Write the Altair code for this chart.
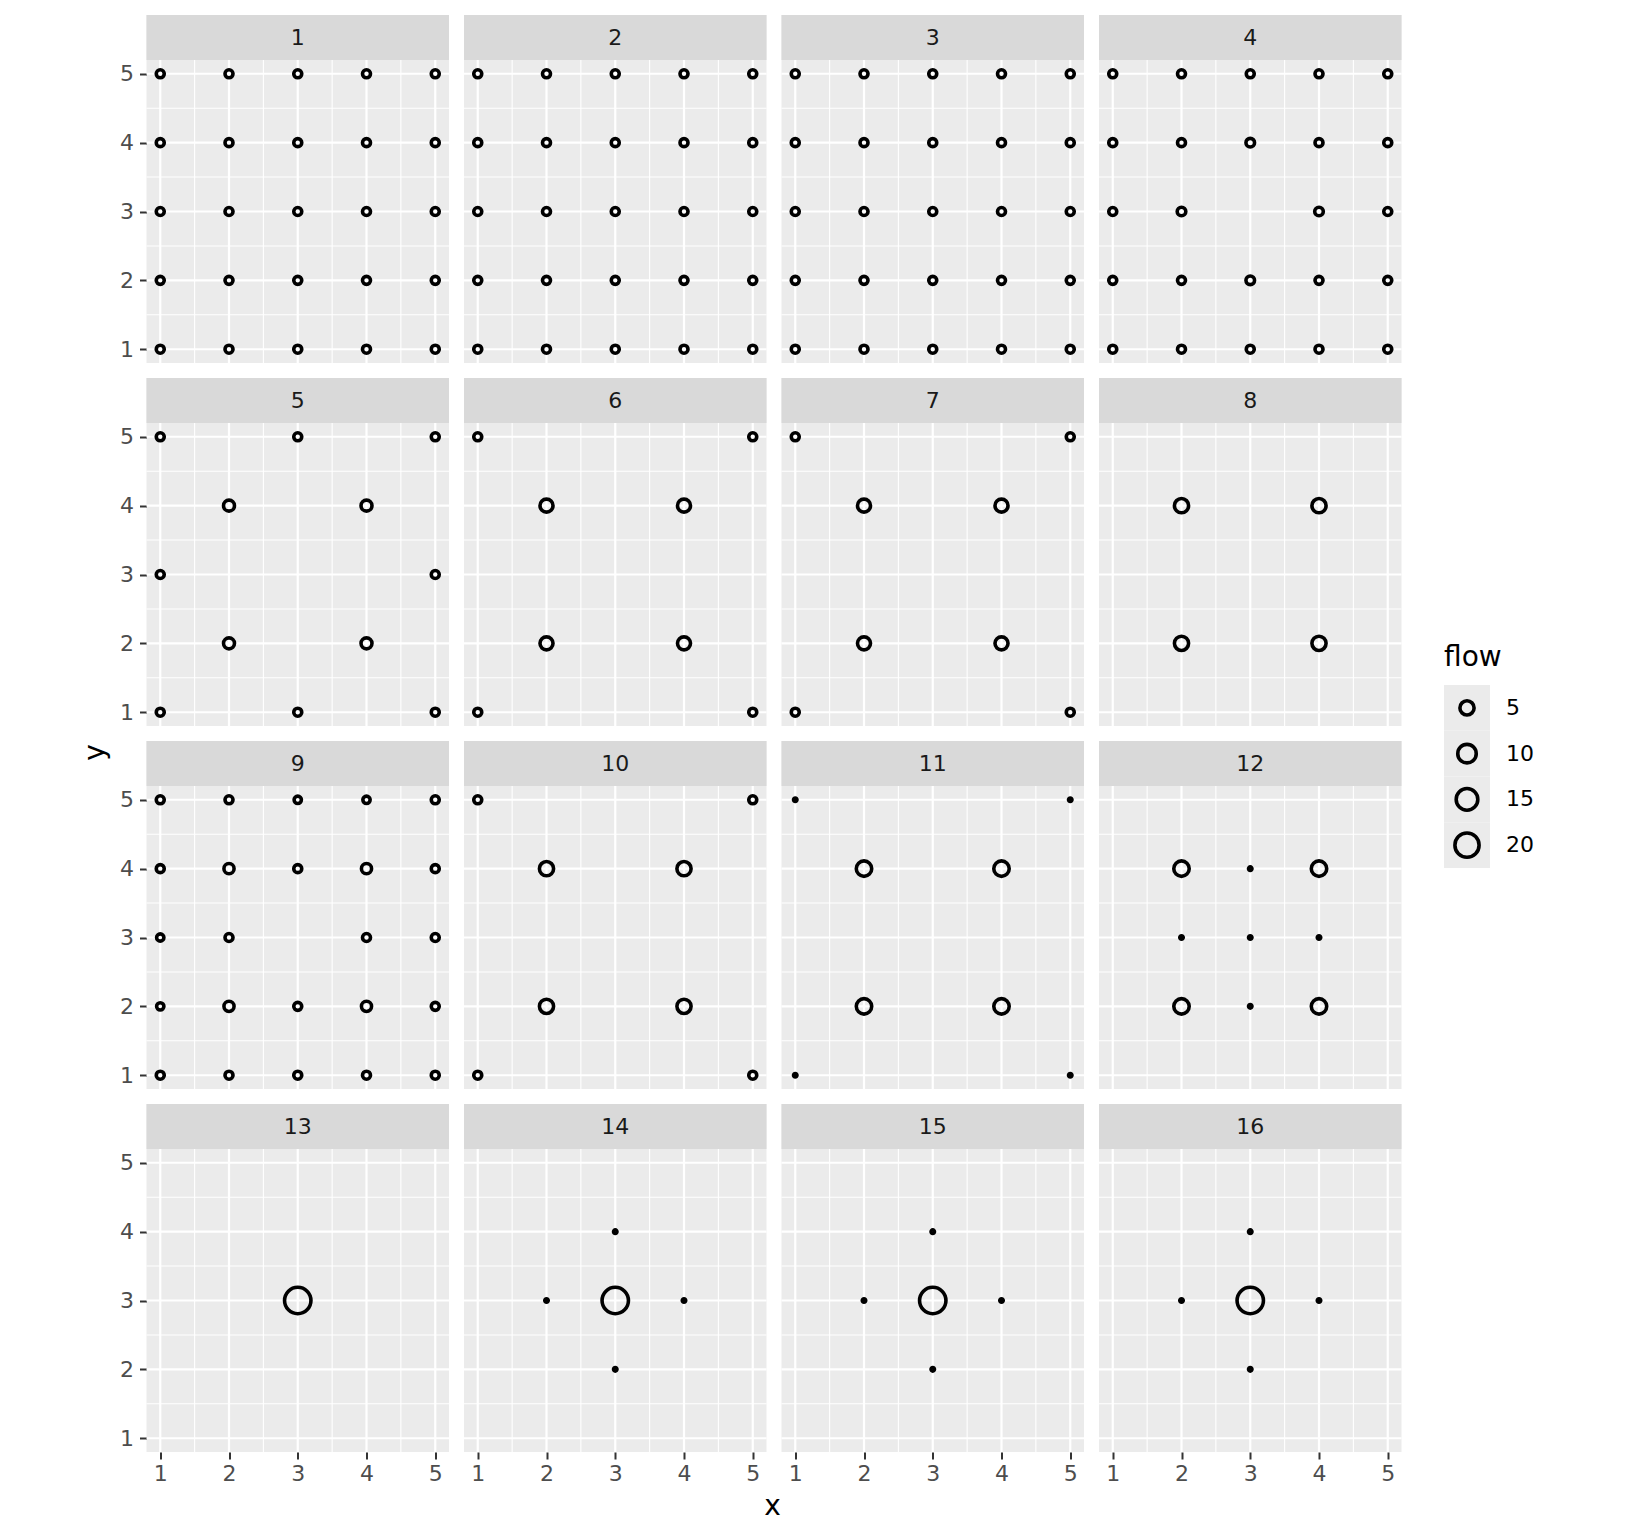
import altair as alt
import pandas as pd

N = None

# flow per cell: rows go from y=5 (top) down to y=1, columns x=1..5; N = no point
flow_1 = [[1, 1, 1, 1, 1], [1, 1, 1, 1, 1], [1, 1, 1, 1, 1], [1, 1, 1, 1, 1], [1, 1, 1, 1, 1]]
flow_2 = [[1, 1, 1, 1, 1], [1, 1, 1, 1, 1], [1, 1, 1, 1, 1], [1, 1, 1, 1, 1], [1, 1, 1, 1, 1]]
flow_3 = [[1, 1, 1, 1, 1], [1, 1, 1, 1, 1], [1, 1, 1, 1, 1], [1, 1, 1, 1, 1], [1, 1, 1, 1, 1]]
flow_4 = [[1, 1, 1, 1, 1], [1, 1, 1.25, 1, 1], [1, 1.25, N, 1.25, 1], [1, 1, 1.25, 1, 1], [1, 1, 1, 1, 1]]
flow_5 = [[1, N, 1, N, 1], [N, 2.5, N, 2.5, N], [1, N, N, N, 1], [N, 2.5, N, 2.5, N], [1, N, 1, N, 1]]
flow_6 = [[1, N, N, N, 1], [N, 4, N, 4, N], [N, N, N, N, N], [N, 4, N, 4, N], [1, N, N, N, 1]]
flow_7 = [[1, N, N, N, 1], [N, 4, N, 4, N], [N, N, N, N, N], [N, 4, N, 4, N], [1, N, N, N, 1]]
flow_8 = [[N, N, N, N, N], [N, 5, N, 5, N], [N, N, N, N, N], [N, 5, N, 5, N], [N, N, N, N, N]]
flow_9 = [[1, 1, 0.75, 0.75, 1], [1, 2, 1, 2, 1], [0.75, 1, N, 1, 1], [0.75, 2, 1, 2, 1], [1, 1, 1, 1, 1]]
flow_10 = [[1, N, N, N, 1], [N, 5, N, 5, N], [N, N, N, N, N], [N, 5, N, 5, N], [1, N, N, N, 1]]
flow_11 = [[0, N, N, N, 0], [N, 6.25, N, 6.25, N], [N, N, N, N, N], [N, 6.25, N, 6.25, N], [0, N, N, N, 0]]
flow_12 = [[N, N, N, N, N], [N, 6.25, 0, 6.25, N], [N, 0, 0, 0, N], [N, 6.25, 0, 6.25, N], [N, N, N, N, N]]
flow_13 = [[N, N, N, N, N], [N, N, N, N, N], [N, N, 25, N, N], [N, N, N, N, N], [N, N, N, N, N]]
flow_14 = [[N, N, N, N, N], [N, N, 0, N, N], [N, 0, 25, 0, N], [N, N, 0, N, N], [N, N, N, N, N]]
flow_15 = [[N, N, N, N, N], [N, N, 0, N, N], [N, 0, 25, 0, N], [N, N, 0, N, N], [N, N, N, N, N]]
flow_16 = [[N, N, N, N, N], [N, N, 0, N, N], [N, 0, 25, 0, N], [N, N, 0, N, N], [N, N, N, N, N]]

panels = [flow_1, flow_2, flow_3, flow_4, flow_5, flow_6, flow_7, flow_8,
          flow_9, flow_10, flow_11, flow_12, flow_13, flow_14, flow_15, flow_16]

major_breaks = [1, 2, 3, 4, 5]
minor_breaks = [1.5, 2.5, 3.5, 4.5]
legend_breaks = [5, 10, 15, 20]
lims = [0.8, 5.2]

records = []
for p, grid in enumerate(panels, start=1):
    for r, row in enumerate(grid):
        for c, v in enumerate(row):
            if v is not None:
                records.append({"panel": p, "x": c + 1, "y": 5 - r, "flow": v})
df = pd.DataFrame(records)
major_df = pd.DataFrame({"m": major_breaks})
minor_df = pd.DataFrame({"m": minor_breaks})

W, H, STRIP = 302.5, 303, 45
LABEL, TITLE = 22, 28
RING = 3.6

xs = alt.Scale(domain=lims, nice=False, zero=False)
# the strip sits in the top STRIP pixels of each panel, the plot area below it
ys = alt.Scale(domain=lims, nice=False, zero=False, range=[STRIP + H, STRIP])
size_scale = alt.Scale(type="pow", exponent=0.8, domain=[0, 25], range=[12, 697], nice=False)

axis_common = dict(
    values=major_breaks, format="d", grid=False, domain=False,
    tickColor="#333333", tickWidth=2, tickSize=7,
    labelFontSize=LABEL, labelColor="#4D4D4D",
    titleFontSize=TITLE, titleColor="black", titleFontWeight="normal",
)


def grid_lines(breaks_df, width, ax_x, ax_y):
    v = alt.Chart(breaks_df).mark_rule(color="white", strokeWidth=width).encode(
        x=alt.X("m:Q", scale=xs, axis=ax_x),
        y=alt.YDatum(lims[0], scale=ys, axis=ax_y),
        y2=alt.Y2Datum(lims[1]),
    )
    h = alt.Chart(breaks_df).mark_rule(color="white", strokeWidth=width).encode(
        y=alt.Y("m:Q", scale=ys, axis=ax_y),
        x=alt.XDatum(lims[0], scale=xs, axis=ax_x),
        x2=alt.X2Datum(lims[1]),
    )
    return [v, h]


def make_panel(k):
    col, row = (k - 1) % 4, (k - 1) // 4
    ax = dict(axis_common, labels=row == 3, ticks=row == 3, labelPadding=4, title=None)
    ay = dict(axis_common, labels=col == 0, ticks=col == 0, labelPadding=6, title=None)
    if k == 14:
        ax.update(title="x", titleX=308, titleY=54, titleBaseline="middle", titleAlign="center")
    if k == 5:
        ay.update(title="y", titleX=-51.5, titleY=374, titleAngle=270,
                  titleBaseline="middle", titleAlign="center")
    ax_x, ax_y = alt.Axis(**ax), alt.Axis(**ay)

    label_df = pd.DataFrame({"panel": [str(k)]})
    strip_bg = alt.Chart(label_df).mark_rect(color="#D9D9D9").encode(
        x=alt.value(0), x2=alt.value(W), y=alt.value(0), y2=alt.value(STRIP)
    )
    strip_txt = alt.Chart(label_df).mark_text(fontSize=LABEL, color="#1A1A1A").encode(
        text="panel:N", y=alt.value(STRIP / 2)
    )
    pts = alt.Chart(df[df.panel == k]).mark_point(
        shape="circle", filled=False, color="black", strokeWidth=RING, opacity=1
    ).encode(
        x=alt.X("x:Q", scale=xs, axis=ax_x),
        y=alt.Y("y:Q", scale=ys, axis=ax_y),
        size=alt.Size("flow:Q", scale=size_scale, legend=None),
    )
    layers = grid_lines(minor_df, 1.1, ax_x, ax_y) + grid_lines(major_df, 2.2, ax_x, ax_y)
    return alt.layer(*layers, strip_bg, strip_txt, pts).properties(
        width=W, height=STRIP + H,
        view=alt.ViewBackground(fill="#EBEBEB", stroke="transparent"),
    )


grid = alt.concat(
    *[make_panel(k) for k in range(1, 17)], columns=4,
    spacing={"row": 15, "column": 14.5}, bounds="flush",
)

# legend drawn as a small chart so the keys sit on a grey block like ggplot's
leg_df = pd.DataFrame({"flow": legend_breaks})
yband = alt.Y("flow:O", axis=None, scale=alt.Scale(range=[670, 853], paddingInner=0, paddingOuter=0))
leg_bg = alt.Chart(leg_df).mark_rect(color="#EBEBEB").encode(y=yband)
leg_keys = alt.Chart(leg_df).mark_point(
    shape="circle", filled=False, color="black", strokeWidth=RING, opacity=1
).encode(y=yband, size=alt.Size("flow:Q", scale=size_scale, legend=None))
leg_labels = alt.Chart(leg_df).mark_text(align="left", dx=39, fontSize=LABEL, color="black").encode(
    y=yband, text="flow:Q"
)
leg_title = alt.Chart(pd.DataFrame({"t": ["flow"]})).mark_text(
    align="left", dx=-23, dy=-76, fontSize=TITLE, color="black"
).encode(text="t:N")
legend = alt.layer(leg_bg, leg_keys, leg_labels, leg_title).properties(
    width=46, height=1437, view=alt.ViewBackground(stroke="transparent")
)

chart = alt.hconcat(grid, legend, spacing=40.5).properties(
    padding={"left": 72.5, "top": 7, "right": 5, "bottom": 5}
).configure(font="DejaVu Sans").configure_view(strokeWidth=0)

chart.save("out.html", embed_options={"renderer": "svg", "actions": False})
